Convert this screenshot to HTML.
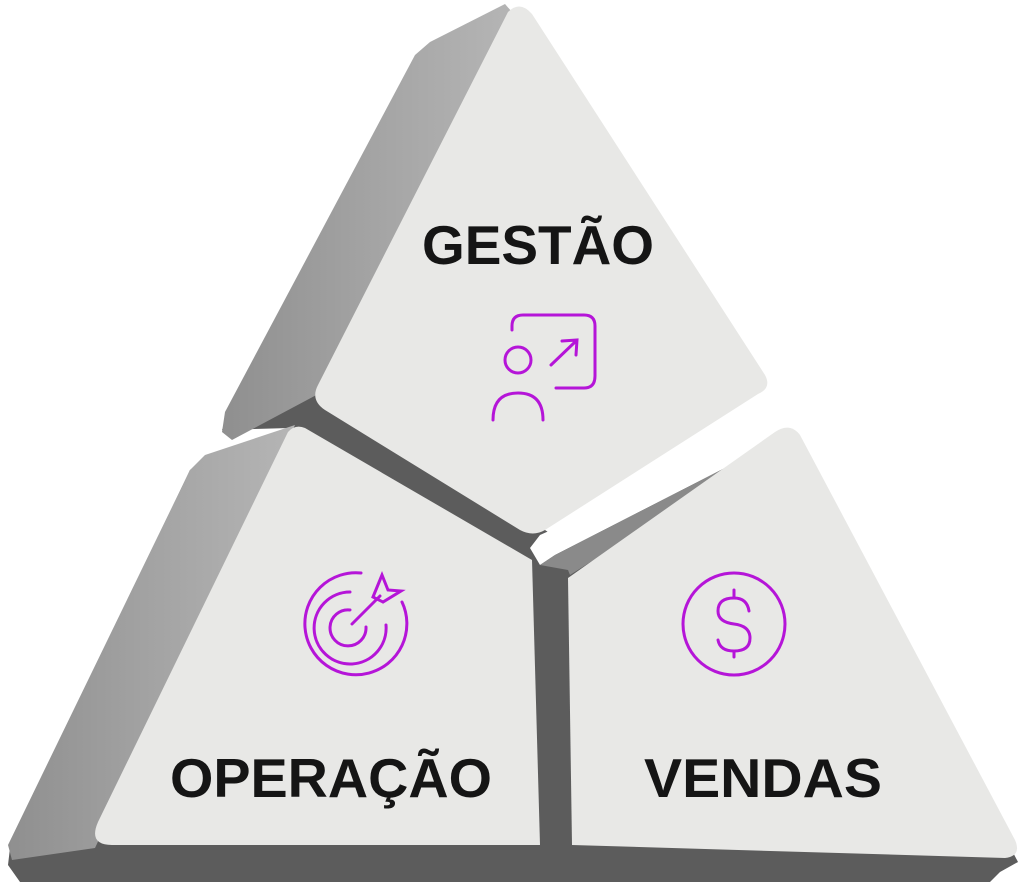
<!DOCTYPE html>
<html><head><meta charset="utf-8"><style>
html,body{margin:0;padding:0;background:#fff;}
svg{display:block}
text{font-family:"Liberation Sans",sans-serif;font-weight:bold;fill:#151515;}
</style></head><body>
<svg width="1024" height="882" viewBox="0 0 1024 882" xmlns="http://www.w3.org/2000/svg">
<defs>
<linearGradient id="side" x1="0" y1="0" x2="1" y2="0">
<stop offset="0" stop-color="#8f8f8f"/><stop offset="0.5" stop-color="#a3a3a3"/><stop offset="1" stop-color="#b5b5b5"/>
</linearGradient>
</defs>
<polygon fill="#5c5c5c" points="222,430 230,410 320,385 530,520 560,540 560,548 790,428 800,445 1018,862 1000,872 990,882 20,882 8,865 10,848 190,470 215,455 290,428"/>
<polygon fill="url(#side)" points="505,4 430,42 415,55 225,412 222,432 232,440 322,392 512,12"/>
<polygon fill="url(#side)" points="295,425 205,455 190,470 8,845 12,860 95,848 108,820"/>
<polygon fill="#ffffff" points="530,548 540,535 770,432 790,428 760,450 555,555 540,565"/>
<polygon fill="#8a8a8a" points="540,565 555,555 760,450 775,445 570,575 568,570"/>
<path fill="#e8e8e6" d="M 508,12 Q 520,0 532,14 L 765,375 Q 772,388 758,394 L 545,530 Q 533,537 520,530 L 325,410 Q 310,400 318,385 Z"/>
<path fill="#e8e8e6" d="M 288,432 Q 295,424 305,428 L 532,560 L 540,845 L 112,845 Q 88,845 98,822 Z"/>
<path fill="#e8e8e6" d="M 775,432 Q 790,422 800,435 L 1015,840 Q 1022,856 1005,858 L 572,845 L 568,578 Z"/>
<text x="538" y="264" font-size="55" text-anchor="middle" textLength="232" lengthAdjust="spacingAndGlyphs">GESTÃO</text>
<text x="331" y="797" font-size="55" text-anchor="middle" textLength="322" lengthAdjust="spacingAndGlyphs">OPERAÇÃO</text>
<text x="763" y="797" font-size="55" text-anchor="middle" textLength="238" lengthAdjust="spacingAndGlyphs">VENDAS</text>
<g fill="none" stroke="#b515d8" stroke-width="3" stroke-linecap="round">
<path d="M 512,330 L 512,326 Q 512,315 523,315 L 584,315 Q 595,315 595,326 L 595,376 Q 595,388 584,388 L 556,388"/>
<circle cx="518" cy="360" r="13"/>
<path d="M 493,420 Q 493,393 518,393 Q 543,393 543,420"/>
<path d="M 551,365 L 575,342 M 562,341 L 577,340 L 576,355"/>
</g>
<g fill="none" stroke="#b515d8" stroke-width="3" stroke-linecap="round">
<path d="M 361,573 A 51,51 0 1 0 402,602"/>
<path d="M 350,592 A 36,36 0 1 0 386,625"/>
<path d="M 350,610 A 18,18 0 1 0 366,627"/>
<path d="M 352,624 L 380,596"/>
<path d="M 373,597 L 382,575 L 388,590 L 401,591 L 383,602 Z"/>
</g>
<g fill="none" stroke="#b515d8" stroke-width="3" stroke-linecap="round">
<circle cx="734" cy="624" r="51"/>
<path d="M 749,611 Q 747,598 734,598 Q 718,598 718,611 Q 718,622 734,624 Q 750,626 750,638 Q 750,651 734,651 Q 720,651 718,640"/>
<path d="M 734,590 L 734,598 M 734,651 L 734,657"/>
</g>
</svg>
</body></html>
